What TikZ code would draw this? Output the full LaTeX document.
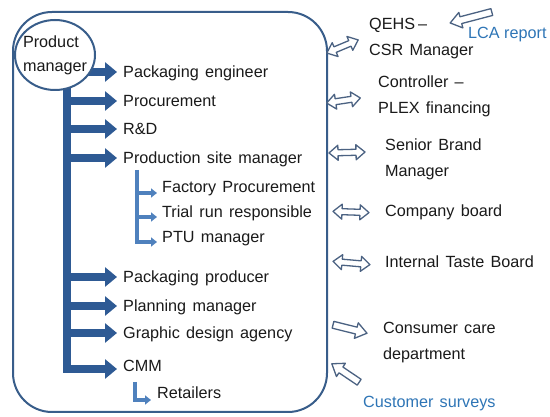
\documentclass[tikz,border=0pt]{standalone}
\usepackage{fontspec}
\setmainfont{Liberation Sans}[WordSpace=1.4]
\usetikzlibrary{arrows.meta,backgrounds,shapes.geometric}
\definecolor{boxc}{RGB}{56,93,138}
\definecolor{trunkc}{RGB}{46,90,148}
\definecolor{subc}{RGB}{79,129,189}
\definecolor{txtc}{RGB}{26,26,26}
\definecolor{bluetxt}{RGB}{46,117,182}
\definecolor{hollowc}{RGB}{75,98,130}
\newcommand\hdbl[4]{%
  \begin{scope}[shift={(#1,#2)},rotate=#3]
    \draw[hollowarr] ({-#4/2},0) -- ({-#4/2+9},7.5) -- ({-#4/2+9},3) -- ({#4/2-9},3) -- ({#4/2-9},7.5) -- ({#4/2},0) -- ({#4/2-9},-7.5) -- ({#4/2-9},-3) -- ({-#4/2+9},-3) -- ({-#4/2+9},-7.5) -- cycle;
  \end{scope}}
\newcommand\hsgl[4]{%
  \begin{scope}[shift={(#1,#2)},rotate=#3]
    \draw[hollowarr] ({-#4/2},-3.5) -- ({#4/2-11},-3.5) -- ({#4/2-11},-8) -- ({#4/2},0) -- ({#4/2-11},8) -- ({#4/2-11},3.5) -- ({-#4/2},3.5) -- cycle;
  \end{scope}}
\tikzset{
  lbl/.style={anchor=west, inner sep=0pt, text height=11.5pt, text depth=0pt, font=\fontsize{16.2}{25.5}\selectfont, text=txtc},
  mlbl/.style={anchor=north west, inner sep=0pt, align=left, font=\fontsize{16.2}{25.5}\selectfont, text=txtc},
  trunk/.style={draw=trunkc, line width=8pt, line join=miter},
  mainarr/.style={trunk, -{Triangle[length=12pt,width=19pt]}},
  subarr/.style={draw=subc, line width=3.5pt, line join=miter, -{Triangle[length=6pt,width=9pt]}},
  hollowarr/.style={draw=hollowc, line width=1.3pt, fill=white, line join=round},
  bigbox/.style={draw=boxc, line width=2pt, rounded corners=39pt},
  pmell/.style={ellipse, draw=boxc, line width=2pt, fill=white, minimum width=80pt, minimum height=70pt, inner sep=0pt},
  pmtext/.style={inner sep=0pt, align=left, font=\fontsize{16.2}{24}\selectfont, text=txtc}
}
\begin{document}
\begin{tikzpicture}[x=1pt,y=-1pt]
\useasboundingbox (0,0) rectangle (550,417);
% product manager
\node[pmell, label={[pmtext]center:{Product\\manager}}] (pm) at (55,55) {};
% left labels
\node[lbl] (pe) at (123,72) {Packaging engineer};
\node[lbl] (proc) at (123,101) {Procurement};
\node[lbl] (rd) at (123,129) {R\&D};
\node[lbl] (psm) at (123,158) {Production site manager};
\node[lbl] (fp) at (162,187) {Factory Procurement};
\node[lbl] (trr) at (162,212) {Trial run responsible};
\node[lbl] (ptu) at (162,237) {PTU manager};
\node[lbl] (pp) at (123,277) {Packaging producer};
\node[lbl] (plm) at (123,306) {Planning manager};
\node[lbl] (gda) at (123,333) {Graphic design agency};
\node[lbl] (cmm) at (123,366) {CMM};
\node[lbl] (ret) at (157,393) {Retailers};
% right labels
\node[mlbl] (qehs) at (369,18) {QEHS\kern3pt–\\CSR Manager};
\node[lbl, text=bluetxt] (lca) at (468,33) {LCA\kern4.5pt report};
\node[mlbl] (ctrl) at (378,76) {Controller –\\PLEX financing};
\node[mlbl] (sbm) at (385,139) {Senior Brand\\Manager};
\node[lbl] (cb) at (385,211) {Company board};
\node[lbl] (itb) at (385,262) {Internal Taste Board};
\node[mlbl] (ccd) at (383,322) {Consumer care\\department};
\node[lbl, text=bluetxt] (cs) at (363,402) {Customer surveys};
% coordinates
\coordinate (tx) at (67,0);
\coordinate (tl) at (63,0);
\coordinate (sb) at (137,170);
\coordinate (sbl) at (135.25,0);
\coordinate (rb) at (135,382);
\coordinate (cmmtip) at ([xshift=-6pt,yshift=-3pt]cmm.west);
\coordinate (ptutip) at ([xshift=-5pt,yshift=-5pt]ptu.west);
\coordinate (fptip) at ([xshift=-5pt,yshift=-6pt]fp.west);
\coordinate (trrtip) at ([xshift=-5pt,yshift=-5pt]trr.west);
\coordinate (rettip) at ([xshift=-6pt,yshift=-7pt]ret.west);
\begin{pgfonlayer}{background}
\fill[white] (0,0) rectangle (550,417);
\draw[bigbox] (13,12) rectangle (327,412);
\draw[mainarr] (pm.center |- pe.west) -- ([xshift=-6pt]pe.west);
\draw[mainarr] (pm.center -| tx) -- (tx |- cmmtip) -- (cmmtip);
\foreach \n in {proc,rd,psm,pp,plm,gda}
  \draw[mainarr] (tl |- \n.west) -- ([xshift=-6pt]\n.west);
\draw[subarr] (sb) -- (sb |- ptutip) -- (ptutip);
\draw[subarr] (sbl |- fptip) -- (fptip);
\draw[subarr] (sbl |- trrtip) -- (trrtip);
\draw[subarr] (rb) -- (rb |- rettip) -- (rettip);
\end{pgfonlayer}
% hollow arrows
\hdbl{342.5}{46.5}{22.7}{34}
\hdbl{343.5}{100.5}{8.6}{34}
\hdbl{347}{152.5}{1.5}{36}
\hdbl{351}{212}{-2}{36}
\hdbl{351.5}{263}{-5}{37}
\hsgl{350}{329}{-14}{35}
\hsgl{345.5}{373}{146}{33}
\hsgl{471}{17.5}{194.7}{43}
\end{tikzpicture}
\end{document}
